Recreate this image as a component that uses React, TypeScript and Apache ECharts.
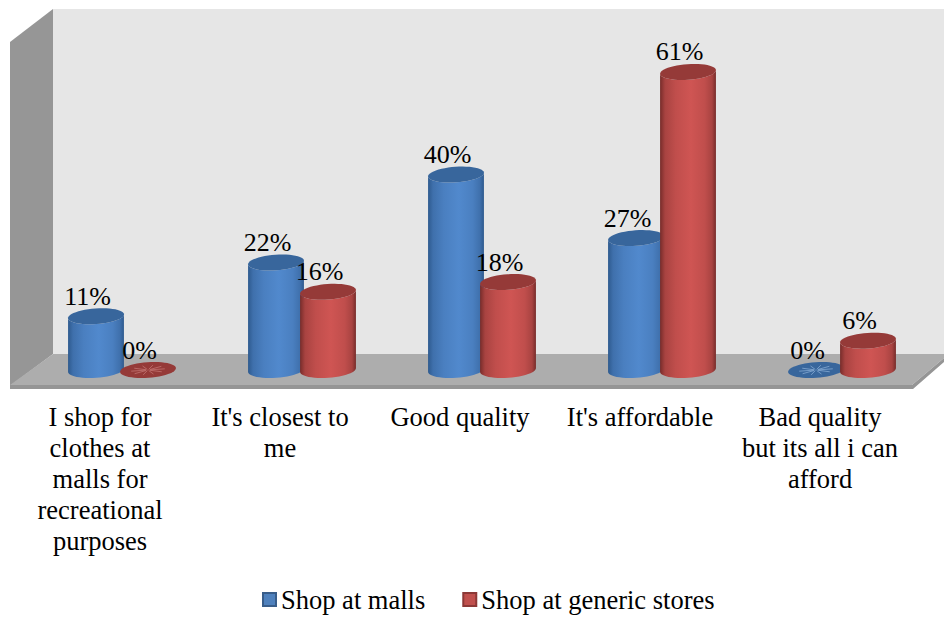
import React, { useEffect, useRef } from "react";
import * as echarts from "echarts";

const categories = [
  "I shop for\nclothes at\nmalls for\nrecreational\npurposes",
  "It's closest to\nme",
  "Good quality",
  "It's affordable",
  "Bad quality\nbut its all i can\nafford",
];
const mallShare = [11, 22, 40, 27, 0];
const genericShare = [0, 16, 18, 61, 6];

const FONT = "'Liberation Serif', 'Times New Roman', serif";
const RX = 28;
const RY = 7.8;
const TILT = 0.07;

type Palette = { edge: string; shade: string; soft: string; mid: string; top: string; spoke: string };

const bluePalette: Palette = { edge: "#2e5a8e", shade: "#3f70ac", soft: "#4a7fc0", mid: "#5189cd", top: "#38669c", spoke: "#8fb2da" };
const redPalette: Palette = { edge: "#772c2a", shade: "#a84341", soft: "#c04e4c", mid: "#cf5553", top: "#953a38", spoke: "#c77a78" };

// One point on the tilted rim of a cylinder, t measured in radians around the ellipse.
function rim(cx: number, cy: number, t: number): number[] {
  const a = RX * Math.cos(t);
  const b = RY * Math.sin(t);
  return [cx + a * Math.cos(TILT) + b * Math.sin(TILT), cy - a * Math.sin(TILT) + b * Math.cos(TILT)];
}

function cylinderItem(shift: number, palette: Palette) {
  return (_params: any, api: any) => {
    const value = api.value(1);
    const [x, topY] = api.coord([api.value(0), value]);
    const [, baseY] = api.coord([api.value(0), 0]);
    const cx = x + shift;
    const children: any[] = [];

    if (value > 0) {
      const outline: number[][] = [];
      for (let i = 0; i <= 24; i++) outline.push(rim(cx, baseY, (Math.PI * i) / 24));
      for (let i = 24; i >= 0; i--) outline.push(rim(cx, topY, (Math.PI * i) / 24));
      children.push({
        type: "polygon",
        shape: { points: outline },
        style: {
          fill: new echarts.graphic.LinearGradient(0, 0, 1, 0, [
            { offset: 0, color: palette.edge },
            { offset: 0.09, color: palette.shade },
            { offset: 0.28, color: palette.soft },
            { offset: 0.55, color: palette.mid },
            { offset: 0.8, color: palette.soft },
            { offset: 0.93, color: palette.shade },
            { offset: 1, color: palette.edge },
          ]),
        },
      });
    }

    const face: number[][] = [];
    for (let i = 0; i < 48; i++) face.push(rim(cx, topY, (Math.PI * i) / 24));
    children.push({ type: "polygon", shape: { points: face }, style: { fill: palette.top } });

    // A flat disc shows faint radial seams where its facets meet.
    if (value === 0) {
      for (let i = 0; i < 10; i++) {
        const end = rim(cx, topY, (Math.PI * i) / 5);
        children.push({
          type: "line",
          shape: {
            x1: cx + (end[0] - cx) * 0.08,
            y1: topY + (end[1] - topY) * 0.08,
            x2: cx + (end[0] - cx) * 0.6,
            y2: topY + (end[1] - topY) * 0.6,
          },
          style: { stroke: palette.spoke, lineWidth: 1, opacity: 0.7 },
        });
      }
    }

    children.push({
      type: "text",
      style: {
        text: `${value}%`,
        x: cx - 8.5,
        y: topY - 20,
        align: "center",
        verticalAlign: "middle",
        fontFamily: FONT,
        fontSize: 26,
        fill: "#000000",
      },
    });

    return { type: "group", children };
  };
}

export default function App() {
  const ref = useRef<HTMLDivElement>(null);

  useEffect(() => {
    const chart = echarts.init(ref.current!, null, { renderer: "svg" });
    chart.setOption({
      animation: false,
      backgroundColor: "#ffffff",
      grid: { left: 10, width: 900, top: 28, height: 342 },
      xAxis: {
        type: "category",
        data: categories,
        axisLine: { show: false },
        axisTick: { show: false },
        axisLabel: {
          interval: 0,
          margin: 31,
          color: "#000000",
          fontFamily: FONT,
          fontSize: 26.5,
          lineHeight: 31,
          verticalAlign: "top",
        },
      },
      yAxis: { type: "value", min: 0, max: 70, show: false },
      legend: {
        left: 257,
        top: 581,
        itemWidth: 13,
        itemHeight: 13,
        itemGap: 37,
        icon: "rect",
        textStyle: { fontFamily: FONT, fontSize: 26.5, color: "#000000", padding: [0, 0, 0, 0] },
      },
      // Room walls and floor behind the columns.
      graphic: [
        { type: "polygon", z: 0, shape: { points: [[53, 9], [944, 9], [944, 354], [53, 354]] }, style: { fill: "#e6e6e6" } },
        { type: "polygon", z: 0, shape: { points: [[10, 42], [53, 9], [53, 354], [10, 386]] }, style: { fill: "#969696" } },
        { type: "polygon", z: 0, shape: { points: [[53, 354], [944, 354], [944, 358], [912, 385], [10, 385]] }, style: { fill: "#adadad" } },
        { type: "polygon", z: 0, shape: { points: [[10, 385], [912, 385], [944, 358], [944, 362], [913, 389], [10, 389]] }, style: { fill: "#959595" } },
      ],
      series: [
        {
          name: "Shop at malls",
          type: "custom",
          renderItem: cylinderItem(-4, bluePalette),
          itemStyle: { color: "#4f81bd", borderColor: "#385d8a", borderWidth: 1 },
          encode: { x: 0, y: 1 },
          data: mallShare.map((v, i) => [i, v]),
        },
        {
          name: "Shop at generic stores",
          type: "custom",
          renderItem: cylinderItem(48, redPalette),
          itemStyle: { color: "#c0504d", borderColor: "#8c3836", borderWidth: 1 },
          encode: { x: 0, y: 1 },
          data: genericShare.map((v, i) => [i, v]),
        },
      ],
    });
    return () => chart.dispose();
  }, []);

  return <div ref={ref} style={{ position: "absolute", left: 0, top: 0, width: 944, height: 617 }} />;
}
